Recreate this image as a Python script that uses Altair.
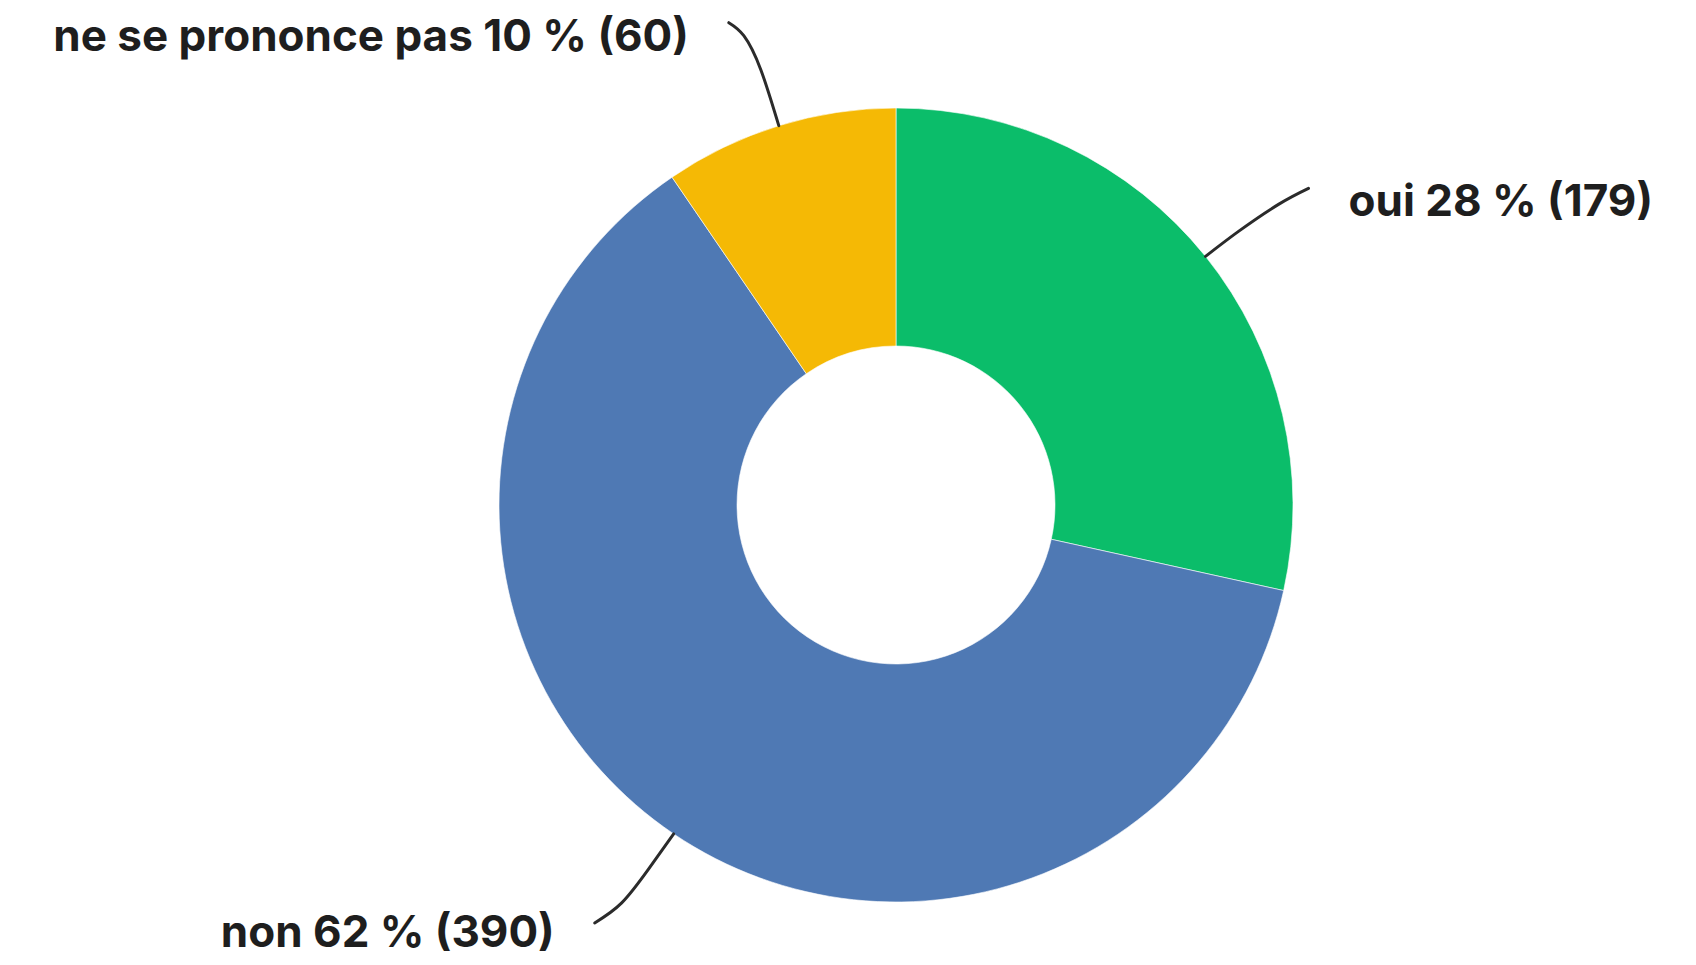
import math
import altair as alt
import pandas as pd

# ---- data ----
categories = ["oui", "non", "ne se prononce pas"]
values = [179, 390, 60]
colors = ["#0bbd6a", "#4f79b4", "#f5b905"]

# ---- style / layout ----
W, H = 1680, 949
CX, CY = 888, 497          # donut centre (px)
R_OUT, R_IN = 397, 159
# leader-line shape: offsets (px) from the point on the outer edge
leader_dx = {
    "oui": [0, 33, 73, 103],
    "non": [0, -25, -52, -79],
    "ne se prononce pas": [0, -18, -35, -50],
}
leader_dy = {
    "oui": [0, -25, -52, -68],
    "non": [0, 35, 69, 89],
    "ne se prononce pas": [0, -56, -90, -103],
}
label_gap = 40
label_drop = 28
FONT_SIZE = 44

total = sum(values)
slices = pd.DataFrame({
    "cat": categories,
    "value": values,
    "rank": list(range(len(categories))),
})

line_rows, label_rows = [], []
cum = 0
for cat, v in zip(categories, values):
    mid = (cum + v / 2) / total * 2 * math.pi
    cum += v
    sx = CX + R_OUT * math.sin(mid)
    sy = CY - R_OUT * math.cos(mid)
    dxs, dys = leader_dx[cat], leader_dy[cat]
    for i, (dx, dy) in enumerate(zip(dxs, dys)):
        line_rows.append({"cat": cat, "i": i, "x": sx + dx, "y": sy + dy})
    ex, ey = sx + dxs[-1], sy + dys[-1]
    right = math.sin(mid) > 0
    pct = round(v / total * 100)
    label_rows.append({
        "cat": cat,
        "x": ex + (label_gap if right else -label_gap),
        "y": min(ey + label_drop, H - 10),
        "align": "left" if right else "right",
        "text": f"{cat} {pct} % ({v})",
    })

lines_df = pd.DataFrame(line_rows)
labels_df = pd.DataFrame(label_rows)

xs = alt.Scale(domain=[0, W], range=[0, W])
ys = alt.Scale(domain=[0, H], range=[0, H])

arcs = alt.Chart(slices).mark_arc(
    innerRadius=R_IN, outerRadius=R_OUT, stroke="#ffffff", strokeWidth=0.6
).encode(
    theta=alt.Theta("value:Q", stack=True),
    color=alt.Color("cat:N", scale=alt.Scale(domain=categories, range=colors), legend=None),
    order=alt.Order("rank:Q"),
    x=alt.value(CX),
    y=alt.value(CY),
)

leaders = alt.Chart(lines_df).mark_line(
    color="#2b2b2b", strokeWidth=3, interpolate="natural", strokeCap="round"
).encode(
    x=alt.X("x:Q", scale=xs, axis=None),
    y=alt.Y("y:Q", scale=ys, axis=None),
    detail="cat:N",
    order="i:Q",
)

texts_left = alt.Chart(labels_df[labels_df["align"] == "left"]).mark_text(
    align="left", baseline="alphabetic", font="Inter", fontSize=FONT_SIZE,
    fontWeight="bold", color="#1e1e1e",
).encode(
    x=alt.X("x:Q", scale=xs, axis=None),
    y=alt.Y("y:Q", scale=ys, axis=None),
    text="text:N",
)
texts_right = alt.Chart(labels_df[labels_df["align"] == "right"]).mark_text(
    align="right", baseline="alphabetic", font="Inter", fontSize=FONT_SIZE,
    fontWeight="bold", color="#1e1e1e",
).encode(
    x=alt.X("x:Q", scale=xs, axis=None),
    y=alt.Y("y:Q", scale=ys, axis=None),
    text="text:N",
)

chart = alt.layer(arcs, leaders, texts_left, texts_right).properties(
    width=W, height=H, padding=0,
    autosize=alt.AutoSizeParams(type="none"),
    background="#ffffff",
).configure_view(stroke=None)

chart.save("out.html", embed_options={"renderer": "svg", "actions": False})
